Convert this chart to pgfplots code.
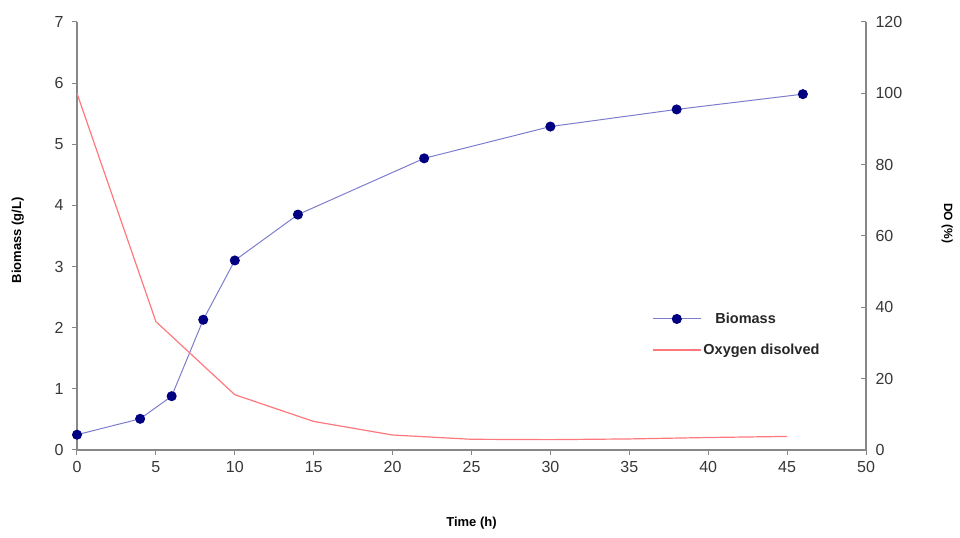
\documentclass[border=0pt]{standalone}
\usepackage{pgfplots}
\pgfplotsset{compat=1.18}
\usepackage{fontspec}
\setmainfont{Liberation Sans}
\definecolor{bioline}{RGB}{125,125,205}
\definecolor{biomark}{RGB}{0,0,128}
\definecolor{doline}{RGB}{255,120,125}
\definecolor{axgray}{RGB}{135,135,135}
\definecolor{txt}{RGB}{55,55,55}
\pgfplotsset{
  common/.style={
    scale only axis, width=789pt, height=428pt,
    xmin=0, xmax=50,
    tick align=outside,
    major tick length=5pt,
    tick style={axgray, line width=1pt},
    axis line style={axgray, line width=1.2pt},
    ticklabel style={font=\fontsize{16}{16}\selectfont, text=txt},
    /pgf/number format/assume math mode=true,
    label style={font=\bfseries\fontsize{13}{13}\selectfont, text=black},
  }
}
\begin{document}
\begin{tikzpicture}
\begin{axis}[common, name=ax1,
  ymin=0, ymax=7,
  axis x line*=bottom, axis y line*=left,
  xtick={0,5,...,50}, ytick={0,1,...,7},
  xticklabel style={yshift=-3pt},
  yticklabel style={xshift=-5pt},
  xlabel={Time (h)}, ylabel={Biomass (g/L)},
  xlabel style={at={(axis description cs:0.5,-0.17)}, anchor=center},
  ylabel style={at={(axis description cs:-0.075,0.49)}, anchor=center},
]
\addplot[bioline, line width=1pt, mark=*, mark size=4.5pt, mark options={biomark, fill=biomark}]
  coordinates {(0,0.25) (4,0.51) (6,0.88) (8,2.13) (10,3.1) (14,3.85) (22,4.77) (30,5.29) (38,5.57) (46,5.82)};
\end{axis}
\begin{axis}[common,
  ymin=0, ymax=120,
  axis x line=none, axis y line*=right,
  ytick={0,20,...,120},
  tick align=inside,
  yticklabel style={xshift=6pt},
  ylabel={DO (\%)},
  ylabel style={at={(axis description cs:1.103,0.53)}, anchor=center, rotate=180, font=\bfseries\fontsize{12}{12}\selectfont},
  legend style={at={(0.725,0.33)}, anchor=north west, draw=none, fill=none,
    font=\bfseries\fontsize{14.5}{14.5}\selectfont, row sep=15pt,
    nodes={text=black!85, inner xsep=2pt}},
  legend cell align=left,
  legend image code/.code={\draw[mark repeat=2, mark phase=2, #1] plot coordinates {(0pt,0pt) (24pt,0pt) (48pt,0pt)};},
]
\addlegendimage{bioline, line width=1pt, mark=*, mark size=4.5pt, mark options={biomark, fill=biomark}}
\addlegendentry{\hspace{12pt}Biomass}
\addplot[doline, line width=1.2pt]
  coordinates {(0,100) (5,36) (10,15.5) (15,8) (20,4.2) (25,3) (30,2.9) (35,3.1) (40,3.5) (45,3.8)};
\addlegendentry{Oxygen disolved}
\end{axis}
\pgfresetboundingbox
\path[use as bounding box] ([xshift=-77pt,yshift=-88pt]ax1.south west) rectangle ([xshift=94pt,yshift=22pt]ax1.north east);
\end{tikzpicture}
\end{document}
